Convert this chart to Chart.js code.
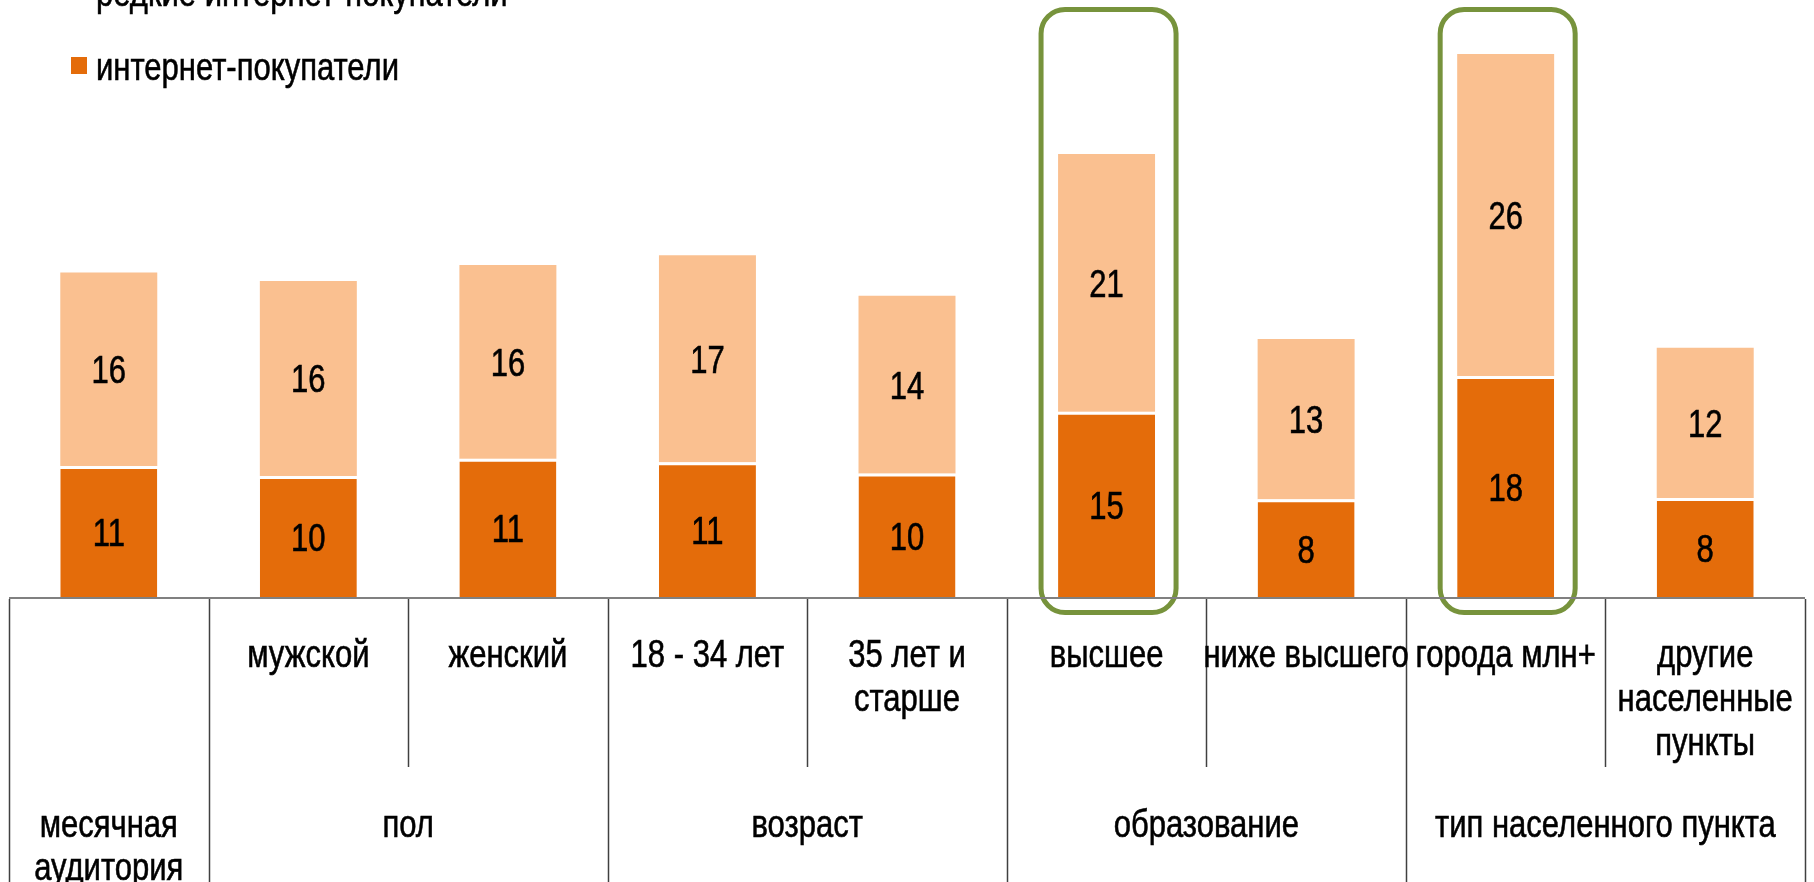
<!DOCTYPE html>
<html lang="ru">
<head>
    <meta charset="UTF-8">
    <title>Интернет-покупатели</title>
    <script src="https://cdn.jsdelivr.net/npm/chart.js"></script>
    <style>
        body {
            margin: 0;
            padding: 0;
            background: #fff;
            overflow: hidden;
        }
        .wrap {
            position: relative;
            width: 1814px;
            height: 882px;
        }
    </style>
</head>
<body>
    <div class="wrap">
        <canvas id="chart"></canvas>
    </div>

    <script>
        // подписи категорий (верхний ряд таблицы под осью)
        const categories = ['', ['мужской'], ['женский'], ['18 - 34 лет'], ['35 лет и', 'старше'],
            ['высшее'], ['ниже высшего'], ['города млн+'], ['другие', 'населенные', 'пункты']];
        // группы (нижний ряд) и какие категории они покрывают
        const groupLabels = [['месячная', 'аудитория'], ['пол'], ['возраст'], ['образование'], ['тип населенного пункта']];
        const groupStart = [0, 1, 3, 5, 7];
        const groupEnd = [0, 2, 4, 6, 8];
        // значения, %
        const buyers = [10.7, 9.9, 11.3, 11.0, 10.1, 15.1, 8.0, 18.0, 8.1];
        const rareBuyers = [15.7, 15.8, 15.7, 16.8, 14.4, 20.9, 13.0, 26.1, 12.2];
        const seriesNames = ['редкие интернет-покупатели', 'интернет-покупатели'];
        const highlighted = [5, 7];

        const DARK = '#E46C0A';
        const LIGHT = '#FAC090';
        const FONT = '38.5px "Liberation Sans", Arial, sans-serif';
        let SX = 0.72; // текст на картинке сжат по горизонтали

        function text(ctx, str, x, y, align) {
            ctx.save();
            ctx.translate(x, y);
            ctx.scale(SX, 1);
            ctx.textAlign = align || 'center';
            ctx.textBaseline = 'alphabetic';
            ctx.fillText(str, 0, 0);
            ctx.lineWidth = 0.6;
            ctx.strokeStyle = ctx.fillStyle;
            ctx.strokeText(str, 0, 0);
            ctx.restore();
        }

        function roundRect(ctx, x, y, w, h, r) {
            ctx.beginPath();
            ctx.moveTo(x + r, y);
            ctx.arcTo(x + w, y, x + w, y + h, r);
            ctx.arcTo(x + w, y + h, x, y + h, r);
            ctx.arcTo(x, y + h, x, y, r);
            ctx.arcTo(x, y, x + w, y, r);
            ctx.closePath();
        }

        const tablePlugin = {
            id: 'table',
            afterDatasetsDraw(chart) {
                const { ctx, chartArea, scales: { x } } = chart;
                const base = chartArea.bottom;
                const H = chart.height;
                const step = x.getPixelForValue(1) - x.getPixelForValue(0);
                const edge = i => x.getPixelForValue(i) - step / 2;

                ctx.save();
                ctx.font = FONT;
                ctx.fillStyle = '#000';
                SX = 303 / ctx.measureText(seriesNames[1]).width;

                // подписи значений
                chart.data.datasets.forEach((ds, di) => {
                    chart.getDatasetMeta(di).data.forEach((bar, i) => {
                        const mid = (bar.y + bar.base) / 2;
                        text(ctx, String(Math.round(ds.data[i])), bar.x, mid + 13.9);
                    });
                });

                // выделенные столбцы
                ctx.strokeStyle = '#77933C';
                ctx.lineWidth = 5;
                highlighted.forEach(i => {
                    const cx = x.getPixelForValue(i) + 2;
                    roundRect(ctx, cx - 67.5, chartArea.top + 3.5, 135, base - chartArea.top + 11, 24);
                    ctx.stroke();
                });

                // линия оси
                ctx.strokeStyle = '#808080';
                ctx.lineWidth = 2;
                ctx.beginPath();
                ctx.moveTo(edge(0), base);
                ctx.lineTo(edge(categories.length), base);
                ctx.stroke();

                // разделители таблицы
                const rowSplit = base + 169;
                const fullLines = groupStart.concat([categories.length]);
                ctx.strokeStyle = '#404040';
                ctx.lineWidth = 1.5;
                for (let i = 0; i <= categories.length; i++) {
                    const px = Math.round(edge(i)) + 0.5;
                    ctx.beginPath();
                    ctx.moveTo(px, base + 1);
                    ctx.lineTo(px, fullLines.includes(i) ? H : rowSplit);
                    ctx.stroke();
                }

                // верхний ряд
                categories.forEach((lines, i) => {
                    if (!lines) return;
                    lines.forEach((l, k) => text(ctx, l, x.getPixelForValue(i), base + 69 + k * 44));
                });

                // нижний ряд
                groupLabels.forEach((lines, g) => {
                    const cx = (edge(groupStart[g]) + edge(groupEnd[g] + 1)) / 2;
                    lines.forEach((l, k) => text(ctx, l, cx, base + 239 + k * 43));
                });

                // легенда (первая строка уходит за верхний край)
                const colors = [LIGHT, DARK];
                seriesNames.forEach((name, k) => {
                    const bl = 80 - (1 - k) * 74;
                    ctx.fillStyle = colors[k];
                    ctx.fillRect(71, bl - 23, 16, 17);
                    ctx.fillStyle = '#000';
                    text(ctx, name, 96, bl, 'left');
                });
                ctx.restore();
            }
        };

        new Chart(document.getElementById('chart'), {
            type: 'bar',
            data: {
                labels: categories.map(c => Array.isArray(c) ? c.join(' ') : c),
                datasets: [{
                    label: seriesNames[1],
                    data: buyers,
                    backgroundColor: DARK,
                    borderColor: '#fff',
                    borderWidth: { top: 3, left: 0, right: 0, bottom: 0 }
                }, {
                    label: seriesNames[0],
                    data: rareBuyers,
                    backgroundColor: LIGHT
                }]
            },
            options: {
                responsive: true,
                maintainAspectRatio: false,
                animation: false,
                layout: { padding: { left: 9, right: 9, top: 6, bottom: 284 } },
                datasets: { bar: { barPercentage: 0.486, categoryPercentage: 1 } },
                scales: {
                    x: { stacked: true, display: false },
                    y: { stacked: true, display: false, min: 0, max: 48 }
                },
                plugins: {
                    legend: { display: false },
                    tooltip: { enabled: false }
                }
            },
            plugins: [tablePlugin]
        });
    </script>
</body>
</html>
